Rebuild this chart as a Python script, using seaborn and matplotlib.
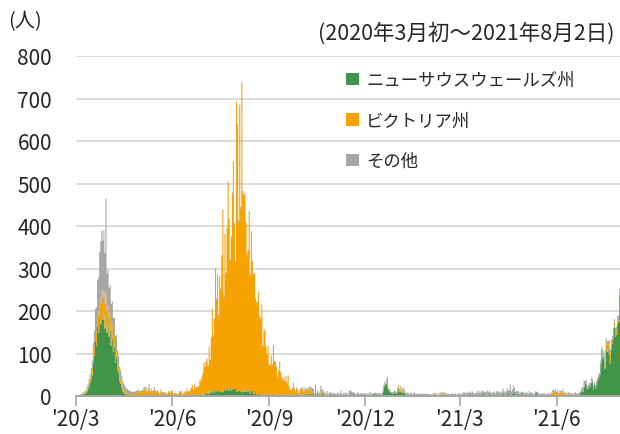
import numpy as np
import pandas as pd
import matplotlib
matplotlib.use('Agg')
import matplotlib.pyplot as plt
from matplotlib.patches import Patch
import seaborn as sns


# daily new cases (people), 2020-03-01 .. 2021-08-02, one line per month
nsw = [
    1, 1, 2, 2, 3, 4, 5, 5, 7, 8, 12, 18, 25, 32, 40, 50, 80, 95, 130, 120, 165, 150, 185, 170, 200, 180, 195, 160, 190, 150, 165,  # 2020/3
    140, 155, 120, 135, 105, 115, 80, 90, 60, 55, 35, 30, 20, 12, 8, 6, 5, 4, 4, 3, 3, 2, 2, 3, 2, 2, 1, 2, 1, 1,  # 4
    2, 1, 2, 3, 1, 2, 1, 3, 2, 1, 2, 4, 2, 1, 3, 2, 1, 2, 1, 3, 2, 3, 1, 2, 1, 2, 3, 1, 2, 1, 2,  # 5
    1, 2, 1, 3, 1, 2, 3, 2, 4, 2, 1, 3, 2, 5, 2, 3, 1, 2, 4, 3, 2, 1, 5, 3, 2, 4, 6, 3, 5, 4,  # 6
    6, 8, 10, 5, 6, 12, 9, 13, 8, 14, 10, 11, 14, 13, 10, 13, 11, 10, 15, 16, 14, 19, 18, 13, 21, 14, 17, 18, 19, 18, 12,  # 7
    12, 13, 14, 12, 12, 10, 19, 11, 14, 12, 12, 22, 7, 14, 13, 7, 6, 8, 4, 6, 5, 7, 1, 6, 2, 4, 8, 3, 4, 2, 1,  # 8
    3, 5, 3, 6, 2, 4, 4, 4, 5, 3, 5, 2, 3, 2, 1, 4, 2, 3, 2, 1, 3, 5, 2, 4, 1, 2, 3, 2, 1, 4,  # 9
    3, 5, 2, 6, 4, 8, 5, 3, 6, 7, 4, 8, 3, 5, 2, 6, 4, 5, 3, 7, 9, 4, 6, 3, 5, 2, 4, 3, 6, 4, 5,  # 10
    3, 2, 4, 5, 3, 2, 6, 3, 4, 5, 2, 3, 4, 2, 5, 3, 2, 4, 6, 3, 2, 5, 3, 4, 2, 3, 5, 4, 3, 2,  # 11
    3, 2, 4, 3, 5, 2, 4, 3, 6, 5, 4, 3, 2, 4, 5, 3, 10, 23, 30, 28, 42, 18, 12, 10, 8, 7, 6, 10, 8, 6, 12,  # 12
    18, 10, 12, 8, 14, 10, 6, 5, 4, 3, 2, 3, 4, 2, 5, 3, 2, 4, 3, 2, 5, 3, 2, 4, 3, 2, 3, 4, 2, 3, 2,  # 2021/1
    2, 3, 2, 4, 3, 2, 1, 3, 2, 4, 3, 2, 3, 5, 2, 3, 2, 1, 3, 2, 4, 3, 2, 3, 2, 3, 4, 2,  # 2
    3, 2, 4, 3, 5, 4, 2, 3, 4, 6, 3, 5, 4, 3, 2, 4, 5, 3, 6, 4, 5, 8, 6, 4, 3, 5, 4, 6, 5, 3, 4,  # 3
    4, 5, 3, 4, 6, 5, 3, 4, 5, 7, 6, 4, 3, 5, 8, 6, 4, 5, 7, 6, 8, 5, 4, 6, 5, 3, 4, 6, 5, 4,  # 4
    3, 4, 5, 3, 6, 4, 5, 3, 2, 4, 6, 8, 5, 3, 4, 2, 3, 4, 2, 3, 2, 4, 3, 2, 3, 2, 4, 3, 2, 1, 3,  # 5
    1, 2, 1, 1, 2, 1, 2, 1, 2, 1, 1, 2, 1, 2, 1, 2, 2, 3, 2, 1, 4, 5, 10, 16, 11, 22, 29, 30, 19, 18,  # 6
    22, 24, 31, 35, 16, 27, 18, 27, 38, 44, 50, 77, 112, 89, 97, 65, 111, 105, 111, 98, 78, 110, 124, 136, 163, 141, 145, 172, 177, 239, 170,  # 7
    210, 239,  # 8
]

vic = [
    0, 0, 1, 1, 1, 1, 2, 2, 3, 4, 5, 6, 8, 10, 12, 15, 18, 22, 26, 30, 35, 40, 45, 48, 50, 52, 55, 58, 55, 50, 48,  # 2020/3
    45, 42, 38, 34, 30, 26, 22, 20, 18, 15, 13, 11, 10, 8, 7, 6, 5, 4, 4, 3, 3, 3, 4, 3, 5, 6, 8, 10, 12, 9,  # 4
    8, 10, 12, 14, 18, 12, 9, 14, 20, 10, 13, 6, 11, 15, 7, 10, 9, 6, 3, 12, 6, 5, 8, 6, 4, 3, 7, 10, 6, 11, 12,  # 5
    5, 4, 6, 3, 2, 5, 8, 8, 6, 3, 5, 7, 9, 12, 10, 8, 12, 18, 21, 13, 25, 19, 16, 17, 20, 33, 30, 41, 49, 75,  # 6
    64, 73, 77, 66, 108, 74, 127, 191, 134, 165, 288, 216, 273, 177, 270, 238, 317, 428, 217, 363, 275, 374, 484, 403, 300, 357, 459, 532, 384, 295, 680,  # 7
    627, 397, 671, 429, 725, 471, 450, 466, 394, 322, 331, 410, 278, 372, 303, 279, 282, 222, 216, 216, 240, 179, 182, 208, 116, 148, 149, 113, 94, 114, 73,  # 8
    70, 90, 70, 113, 81, 76, 63, 41, 55, 76, 51, 43, 35, 41, 35, 42, 28, 45, 21, 14, 11, 14, 28, 15, 12, 16, 12, 5, 12, 14,  # 9
    15, 12, 8, 9, 11, 7, 9, 12, 13, 11, 4, 5, 1, 3, 3, 2, 1, 1, 7, 5, 4, 1, 1, 0, 0, 1, 3, 2, 0, 0, 0,  # 10
    0, 0, 0, 0, 0, 0, 0, 0, 0, 0, 0, 0, 0, 0, 0, 0, 0, 0, 0, 0, 0, 0, 0, 0, 0, 0, 0, 0, 0, 0,  # 11
    0, 0, 0, 0, 0, 0, 0, 0, 1, 0, 0, 0, 0, 0, 0, 0, 0, 0, 0, 0, 0, 1, 0, 0, 0, 0, 1, 0, 0, 0, 3,  # 12
    5, 3, 10, 3, 3, 2, 1, 0, 1, 0, 0, 1, 0, 0, 1, 0, 0, 0, 0, 0, 0, 0, 1, 0, 0, 0, 0, 0, 0, 0, 0,  # 2021/1
    0, 0, 0, 1, 1, 2, 0, 2, 2, 3, 1, 5, 3, 1, 2, 1, 0, 2, 0, 1, 0, 0, 0, 0, 0, 0, 0, 0,  # 2
    0, 0, 0, 1, 0, 0, 0, 0, 1, 0, 0, 0, 0, 0, 0, 0, 1, 0, 0, 0, 0, 0, 0, 1, 0, 0, 0, 0, 0, 0, 0,  # 3
    0, 0, 0, 0, 1, 0, 0, 0, 0, 0, 0, 0, 1, 0, 0, 0, 0, 0, 0, 0, 0, 0, 0, 1, 0, 0, 0, 0, 0, 0,  # 4
    0, 0, 0, 0, 0, 0, 0, 0, 0, 0, 1, 0, 0, 0, 0, 0, 0, 0, 0, 0, 0, 0, 0, 0, 1, 4, 6, 12, 8, 11, 5,  # 5
    11, 4, 8, 10, 7, 11, 4, 5, 2, 3, 5, 3, 2, 0, 1, 2, 3, 2, 1, 1, 0, 0, 0, 0, 1, 0, 0, 0, 0, 0,  # 6
    0, 0, 0, 0, 0, 0, 0, 0, 0, 0, 0, 0, 0, 0, 3, 10, 19, 16, 13, 22, 26, 14, 10, 12, 11, 10, 10, 6, 3, 0, 0,  # 7
    0, 1,  # 8
]

other = [
    0, 1, 1, 1, 2, 2, 2, 3, 3, 4, 5, 6, 8, 10, 15, 20, 28, 38, 50, 60, 75, 90, 110, 147, 140, 135, 141, 120, 220, 90, 85,  # 2020/3
    70, 65, 60, 55, 50, 45, 40, 35, 30, 25, 22, 20, 18, 15, 14, 12, 10, 10, 8, 8, 7, 6, 6, 5, 5, 4, 4, 3, 3, 3,  # 4
    3, 4, 2, 5, 3, 8, 4, 3, 6, 2, 4, 3, 2, 7, 3, 2, 4, 2, 3, 2, 3, 2, 1, 2, 3, 1, 2, 2, 1, 2, 1,  # 5
    1, 2, 1, 1, 2, 1, 2, 1, 3, 1, 1, 2, 1, 2, 1, 2, 3, 1, 2, 1, 2, 1, 2, 3, 2, 1, 2, 3, 2, 1,  # 6
    1, 2, 2, 3, 2, 1, 4, 3, 2, 5, 3, 4, 2, 3, 3, 4, 5, 3, 6, 4, 3, 5, 4, 3, 2, 6, 4, 3, 5, 4, 3,  # 7
    3, 4, 2, 5, 3, 4, 6, 3, 2, 4, 3, 5, 2, 3, 4, 2, 3, 1, 2, 3, 2, 4, 1, 2, 3, 1, 2, 2, 1, 3, 2,  # 8
    2, 1, 3, 2, 1, 2, 4, 2, 1, 3, 2, 1, 2, 3, 1, 2, 4, 2, 1, 2, 3, 1, 2, 2, 1, 3, 2, 1, 2, 1,  # 9
    2, 4, 3, 6, 2, 5, 3, 8, 4, 3, 12, 5, 3, 20, 4, 7, 3, 5, 15, 4, 3, 6, 2, 4, 8, 3, 2, 5, 3, 2, 4,  # 10
    3, 5, 2, 4, 6, 3, 8, 4, 2, 5, 3, 6, 4, 2, 8, 12, 10, 6, 4, 5, 3, 2, 6, 4, 3, 5, 2, 4, 3, 6,  # 11
    4, 3, 5, 2, 6, 4, 3, 5, 2, 4, 3, 5, 6, 4, 2, 3, 5, 4, 6, 3, 5, 4, 3, 6, 2, 4, 3, 5, 4, 3, 6,  # 12
    4, 5, 3, 6, 4, 8, 5, 3, 4, 6, 3, 5, 4, 2, 3, 5, 4, 3, 2, 4, 3, 2, 4, 3, 2, 5, 3, 2, 4, 3, 2,  # 2021/1
    3, 2, 4, 3, 5, 2, 3, 4, 2, 3, 5, 3, 2, 4, 3, 2, 4, 3, 2, 3, 4, 2, 3, 5, 2, 3, 4, 3,  # 2
    4, 3, 5, 6, 4, 3, 8, 5, 4, 6, 5, 7, 4, 3, 6, 5, 8, 4, 6, 5, 9, 4, 6, 5, 7, 10, 6, 8, 5, 4, 6,  # 3
    5, 7, 4, 8, 6, 5, 9, 4, 6, 12, 7, 5, 8, 14, 6, 9, 25, 7, 10, 20, 12, 6, 9, 5, 8, 4, 6, 5, 7, 4,  # 4
    6, 4, 5, 3, 7, 4, 6, 5, 3, 4, 5, 3, 6, 4, 2, 5, 3, 4, 6, 3, 2, 4, 3, 5, 2, 3, 4, 2, 3, 5, 3,  # 5
    4, 3, 5, 2, 4, 6, 3, 5, 4, 2, 5, 3, 4, 6, 3, 2, 4, 5, 3, 6, 4, 5, 3, 6, 8, 15, 7, 10, 6, 8,  # 6
    10, 8, 12, 7, 9, 6, 8, 10, 7, 9, 6, 8, 5, 7, 9, 6, 8, 10, 7, 12, 8, 10, 9, 14, 8, 11, 9, 12, 10, 15, 11,  # 7
    12, 10,  # 8
]

regions = ['ニューサウスウェールズ州', 'ビクトリア州', 'その他']
colors = ['#41944a', '#f5a202', '#a6a6a6']
tick_dates = ['2020-03-01', '2020-06-01', '2020-09-01', '2020-12-01', '2021-03-01', '2021-06-01']
tick_labels = ["'20/3", "'20/6", "'20/9", "'20/12", "'21/3", "'21/6"]

dates = pd.date_range('2020-03-01', '2021-08-02', freq='D')
df = pd.DataFrame({'date': dates, 'day': np.arange(len(dates)),
                   regions[0]: nsw, regions[1]: vic, regions[2]: other})
long_df = df.melt(id_vars=['date', 'day'], value_vars=regions,
                  var_name='region', value_name='cases')


sns.set_theme(style='white')
plt.rcParams['font.family'] = ['Noto Sans CJK JP', 'DejaVu Sans']

fig = plt.figure(figsize=(6.2, 4.35), dpi=100)
ax = fig.add_axes([75.5 / 620, 38 / 435, 547.5 / 620, 340 / 435])

# seaborn stacks the last hue level at the bottom, so reverse the order
sns.histplot(data=long_df, x='day', weights='cases', hue='region', hue_order=regions[::-1],
             palette=dict(zip(regions, colors)), multiple='stack', discrete=True,
             element='step', linewidth=0, alpha=1, legend=False, ax=ax)

ax.set_xlim(-0.5, len(dates) - 0.5)
ax.set_ylim(0, 800)
ax.set_yticks(range(0, 801, 100))
ax.set_xlabel('')
ax.set_ylabel('')

tick_pos = [df.index[df['date'] == pd.Timestamp(d)][0] - 0.5 for d in tick_dates]
ax.set_xticks(tick_pos)
ax.set_xticklabels(tick_labels)

ax.yaxis.grid(True, color='#d9d9d9', linewidth=1.3)
ax.set_axisbelow(True)
for s in ['left', 'right', 'top']:
    ax.spines[s].set_visible(False)
ax.spines['bottom'].set_color('#a6a6a6')
ax.spines['bottom'].set_linewidth(1.3)

ax.tick_params(axis='x', length=7, width=1.2, color='#a6a6a6', direction='out',
               labelsize=15, pad=2, bottom=True)
ax.tick_params(axis='y', length=0, labelsize=15, pad=17)

handles = [Patch(facecolor=c, edgecolor='none') for c in colors]
ax.legend(handles, regions, loc='upper left', bbox_to_anchor=(346 / 620, 1 - 72 / 435),
          bbox_transform=fig.transFigure, frameon=False, fontsize=12.5,
          handlelength=0.75, handleheight=0.75, handletextpad=0.4,
          labelspacing=1.3, borderpad=0, borderaxespad=0)

fig.text(8 / 620, 1 - 22 / 435, '(人)', fontsize=14.5, va='center', ha='left')
fig.text(614 / 620, 1 - 34 / 435, '(2020年3月初～2021年8月2日)', fontsize=15.5,
         va='center', ha='right')

fig.savefig('out.png', dpi=100)
